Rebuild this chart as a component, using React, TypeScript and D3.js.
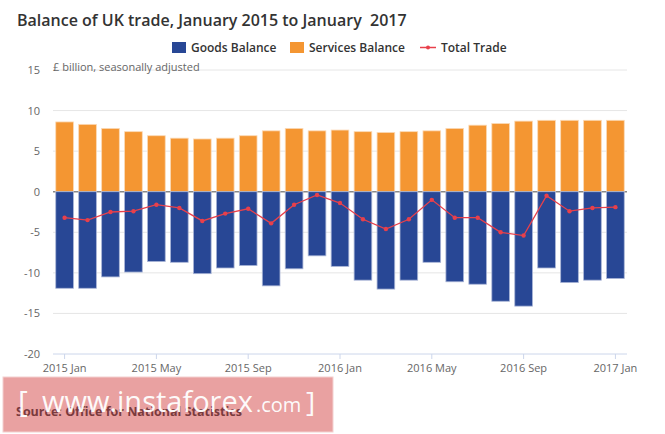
import React from "react";
import * as d3 from "d3";

const months: string[] = [
  "2015 Jan", "2015 Feb", "2015 Mar", "2015 Apr", "2015 May", "2015 Jun",
  "2015 Jul", "2015 Aug", "2015 Sep", "2015 Oct", "2015 Nov", "2015 Dec",
  "2016 Jan", "2016 Feb", "2016 Mar", "2016 Apr", "2016 May", "2016 Jun",
  "2016 Jul", "2016 Aug", "2016 Sep", "2016 Oct", "2016 Nov", "2016 Dec",
  "2017 Jan",
];

const goodsBalance: number[] = [
  -11.9, -11.9, -10.5, -9.9, -8.6, -8.7, -10.1, -9.4, -9.1, -11.6, -9.5, -7.9,
  -9.2, -10.9, -12.0, -10.9, -8.7, -11.1, -11.4, -13.5, -14.1, -9.4, -11.2,
  -10.9, -10.7,
];

const servicesBalance: number[] = [
  8.6, 8.3, 7.8, 7.4, 6.9, 6.6, 6.5, 6.6, 6.9, 7.5, 7.8, 7.5, 7.6, 7.4, 7.3,
  7.4, 7.5, 7.8, 8.2, 8.4, 8.7, 8.8, 8.8, 8.8, 8.8,
];

const totalTrade: number[] = [
  -3.2, -3.5, -2.5, -2.4, -1.6, -2.0, -3.6, -2.7, -2.1, -3.9, -1.6, -0.4,
  -1.4, -3.4, -4.6, -3.4, -1.0, -3.2, -3.2, -5.0, -5.4, -0.5, -2.4, -2.0,
  -1.9,
];

const yTicks: number[] = [15, 10, 5, 0, -5, -10, -15, -20];
const xTickLabels: string[] = [
  "2015 Jan", "2015 May", "2015 Sep", "2016 Jan", "2016 May", "2016 Sep", "2017 Jan",
];

const W = 665;
const H = 434;
const plot = { left: 53, right: 627, top: 70, bottom: 354 };

const GOODS = "#284795";
const SERVICES = "#f49632";
const TOTAL = "#e8404b";
const FONT = "'Open Sans', 'DejaVu Sans', sans-serif";

export default function App() {
  const x = d3
    .scaleBand<string>()
    .domain(months)
    .range([plot.left, plot.right])
    .paddingInner(0.23)
    .paddingOuter(0.12);
  const y = d3.scaleLinear().domain([-20, 15]).range([plot.bottom, plot.top]);
  const cx = (m: string) => (x(m) || 0) + x.bandwidth() / 2;

  const line = d3
    .line<number>()
    .x((_, i) => cx(months[i]))
    .y((d) => y(d));

  return (
    <svg
      width={W}
      height={H}
      style={{ position: "absolute", left: 0, top: 0, background: "#fff" }}
      fontFamily={FONT}
    >
      <text
        x={17}
        y={26}
        fontSize={16}
        fontWeight={600}
        fill="#333"
        style={{ whiteSpace: "pre" }}
      >
        {"Balance of UK trade, January 2015 to January  2017"}
      </text>

      {/* legend */}
      <g fontSize={12} fontWeight={600} fill="#333">
        <rect x={172} y={42} width={14} height={11} fill={GOODS} />
        <text x={191} y={52}>Goods Balance</text>
        <rect x={290} y={42} width={14} height={11} fill={SERVICES} />
        <text x={309} y={52}>Services Balance</text>
        <line x1={420} x2={436} y1={47.5} y2={47.5} stroke={TOTAL} strokeWidth={1.5} />
        <circle cx={428} cy={47.5} r={2} fill={TOTAL} />
        <text x={441} y={52}>Total Trade</text>
      </g>

      {/* gridlines */}
      {yTicks.map((t) => (
        <line
          key={t}
          x1={plot.left}
          x2={plot.right}
          y1={y(t)}
          y2={y(t)}
          stroke={t === -20 ? "#ccd6eb" : t === 0 ? "#888" : "#e6e6e6"}
          strokeWidth={t === 0 ? 1.5 : 1}
        />
      ))}
      {yTicks.map((t) => (
        <text
          key={t}
          x={40}
          y={y(t) + 4}
          textAnchor="end"
          fontSize={11}
          fill="#666"
        >
          {t}
        </text>
      ))}
      <text x={53} y={71} fontSize={11} fill="#666">
        £ billion, seasonally adjusted
      </text>

      {/* bars */}
      {months.map((m, i) => (
        <g key={m}>
          <rect
            x={x(m)}
            y={y(servicesBalance[i])}
            width={x.bandwidth()}
            height={y(0) - y(servicesBalance[i])}
            fill={SERVICES}
            stroke="#fbd9b5"
            strokeWidth={0.8}
          />
          <rect
            x={x(m)}
            y={y(0)}
            width={x.bandwidth()}
            height={y(goodsBalance[i]) - y(0)}
            fill={GOODS}
            stroke="#a9b5d6"
            strokeWidth={0.8}
          />
        </g>
      ))}

      {/* total trade line */}
      <path d={line(totalTrade) || ""} fill="none" stroke={TOTAL} strokeWidth={1.3} />
      {totalTrade.map((v, i) => (
        <circle key={i} cx={cx(months[i])} cy={y(v)} r={2.2} fill={TOTAL} />
      ))}

      {/* x axis */}
      {xTickLabels.map((lbl) => (
        <g key={lbl}>
          <line
            x1={cx(lbl)}
            x2={cx(lbl)}
            y1={plot.bottom}
            y2={plot.bottom + 5}
            stroke="#ccd6eb"
          />
          <text x={cx(lbl)} y={372} textAnchor="middle" fontSize={11} fill="#666">
            {lbl}
          </text>
        </g>
      ))}

      {/* watermark over the source note */}
      <rect x={3} y={377} width={330} height={55} fill="#e9a1a1" stroke="#f3d0d0" />
      <text x={16} y={416} fontSize={12.5} fontWeight={700} fill="#7a3a3d">
        Source: Office for National Statistics
      </text>
      <g fill="#fff" fontFamily="'Open Sans', sans-serif" fontWeight={400} opacity={0.95}>
        <text x={18} y={412} fontSize={30}>[</text>
        <text x={42} y={412} fontSize={29}>www.instaforex</text>
        <text x={256} y={412} fontSize={20}>.com</text>
        <text x={306} y={412} fontSize={28}>]</text>
      </g>
    </svg>
  );
}
